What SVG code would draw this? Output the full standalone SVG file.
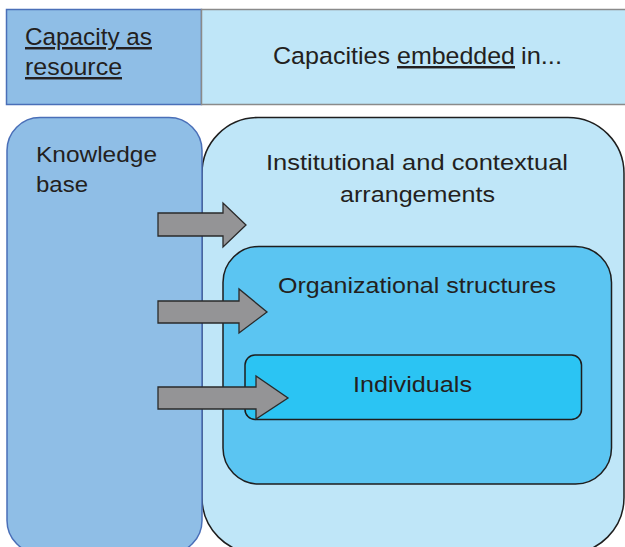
<svg xmlns="http://www.w3.org/2000/svg" width="625" height="547" viewBox="0 0 625 547">
<style>
text{font-family:"Liberation Sans",Arial,sans-serif;fill:#231f20;font-size:22px}
.hd{font-family:"Liberation Sans Narrow","Liberation Sans",Arial,sans-serif;font-size:24.5px}
.u{text-decoration:underline}
.arrow{fill:#949496;stroke:#2a2a2a;stroke-width:1.3}
</style>
<rect width="625" height="547" fill="#ffffff"/>
<g id="header-resource">
<rect x="6.5" y="9.5" width="195" height="95" fill="#8fbee6" stroke="#4a6fb8" stroke-width="1.5"/>
<text class="hd u" x="25" y="45" textLength="127" lengthAdjust="spacingAndGlyphs">Capacity as</text>
<text class="hd u" x="25" y="75" textLength="97" lengthAdjust="spacingAndGlyphs">resource</text>
</g>
<g id="header-embedded">
<rect x="201.5" y="9.5" width="425" height="95" fill="#bfe6f8" stroke="#8a8a8a" stroke-width="1.5"/>
<text class="hd" x="273" y="64" textLength="117" lengthAdjust="spacingAndGlyphs">Capacities</text>
<text class="hd u" x="397" y="64" textLength="118" lengthAdjust="spacingAndGlyphs">embedded</text>
<text class="hd" x="521" y="64" textLength="41" lengthAdjust="spacingAndGlyphs">in...</text>
</g>
<g id="institutional">
<rect x="202" y="117.5" width="422" height="436" rx="56" fill="#bfe6f8" stroke="#1e1e1e" stroke-width="1.5"/>
<text x="266" y="170" textLength="302" lengthAdjust="spacingAndGlyphs">Institutional and contextual</text>
<text x="340" y="202" textLength="155" lengthAdjust="spacingAndGlyphs">arrangements</text>
</g>
<g id="organizational">
<rect x="223" y="246.5" width="388.5" height="237.5" rx="36" fill="#5bc5f2" stroke="#1e1e1e" stroke-width="1.5"/>
<text x="278" y="293" textLength="278" lengthAdjust="spacingAndGlyphs">Organizational structures</text>
</g>
<g id="individuals">
<rect x="245" y="355" width="336.5" height="64.5" rx="10" fill="#2bc4f3" stroke="#1e1e1e" stroke-width="1.5"/>
<text x="353" y="392" textLength="119" lengthAdjust="spacingAndGlyphs">Individuals</text>
</g>
<g id="knowledge">
<rect x="7" y="117.5" width="195" height="436" rx="33" fill="#8fbee6" stroke="#4a6fb8" stroke-width="1.5"/>
<text x="36" y="162" textLength="121" lengthAdjust="spacingAndGlyphs">Knowledge</text>
<text x="36" y="192" textLength="52" lengthAdjust="spacingAndGlyphs">base</text>
</g>
<g id="connectors">
<polygon class="arrow" points="158,213 223,213 223,203 246,225 223,247 223,236 158,236"/>
<polygon class="arrow" points="158,301 239,301 239,289 267,312 239,333 239,323 158,323"/>
<polygon class="arrow" points="158,387 256,387 256,376 288,398 256,419 256,409 158,409"/>
</g>
</svg>
